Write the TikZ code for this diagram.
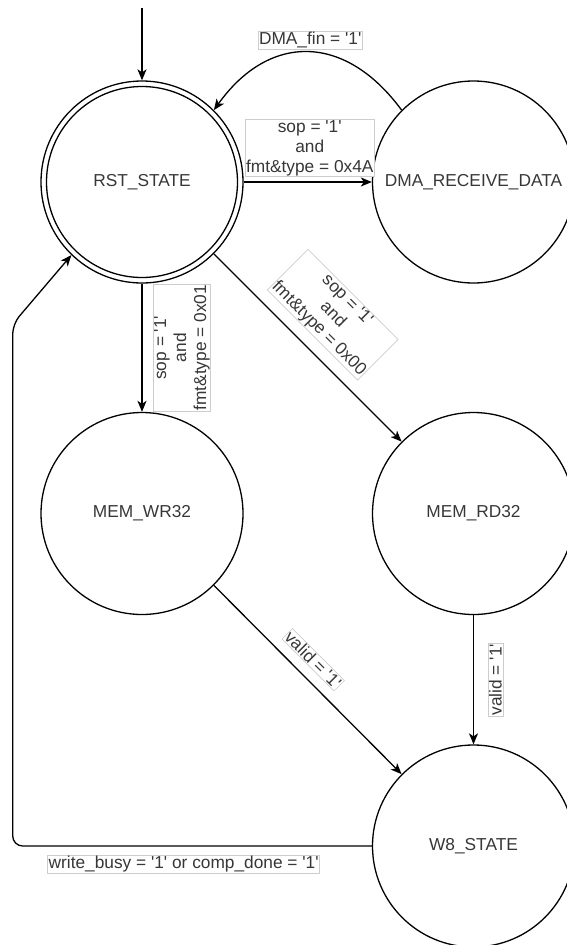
\documentclass[tikz,border=0pt]{standalone}
\usepackage{fontspec}
\newfontfamily\diafont{Liberation Sans}
\usetikzlibrary{arrows.meta}
\definecolor{txt}{RGB}{55,55,55}
\definecolor{lblborder}{RGB}{205,205,205}
\begin{document}
\begin{tikzpicture}[x=1pt,y=-1pt,
  every node/.style={font=\diafont\fontsize{17.3}{20}\selectfont, text=txt},
  state/.style={circle, draw=black, line width=1.3pt, minimum size=202pt, inner sep=0pt},
  trans/.style={draw=black, line width=1.3pt, -{Stealth[length=11pt,width=9pt,inset=3pt]}},
  lbl/.style={draw=lblborder, line width=0.6pt, fill=white, inner sep=1pt, align=center, sharp corners}
]
\useasboundingbox (0,0) rectangle (567,945);

% states
\node[state] (rst) at (142,182) {RST\_STATE};
\draw[line width=1.3pt] (rst.center) circle[radius=95.5pt];
\node[state] (dma) at (473.5,182) {DMA\_RECEIVE\_DATA};
\node[state] (mwr) at (142,513.5) {MEM\_WR32};
\node[state] (mrd) at (473.5,513.5) {MEM\_RD32};
\node[state] (w8)  at (473.5,846) {W8\_STATE};

% helper points
\coordinate (start) at (142,8);
\coordinate (bl) at (12.7,846);
\coordinate (ul) at (12.7,324);

% transitions
\draw[trans] (start) -- (rst.north);

\draw[trans] (rst.east) -- node[lbl, above=5pt, xshift=2pt]
  {sop = '1'\\and\\fmt\&type = 0x4A} (dma.west);

\draw[trans] (dma.135) .. controls (345,33) and (269,33) ..
  node[lbl, pos=0.5, xshift=3pt, yshift=12pt] {DMA\_fin = '1'} (rst.45);

\draw[trans] (rst.south) -- node[lbl, xshift=40pt, rotate=90]
  {sop = '1'\\and\\fmt\&type = 0x01} (mwr.north);

\draw[trans] (rst.-45) -- node[lbl, shift={(25,-33)}, rotate=-45]
  {sop = '1'\\and\\fmt\&type = 0x00} (mrd.135);

\draw[trans] (mwr.-45) -- node[lbl, shift={(5.5,-20)}, rotate=-45]
  {valid = '1'} (w8.135);

\draw[trans] (mrd.south) -- node[lbl, xshift=22pt, rotate=90]
  {valid = '1'} (w8.north);

\draw[trans, rounded corners=10pt] (w8.west) --
  node[lbl, pos=0.524, yshift=-18pt] {write\_busy = '1' or comp\_done = '1'} (bl)
  -- (ul) -- (rst.226);
\end{tikzpicture}
\end{document}
